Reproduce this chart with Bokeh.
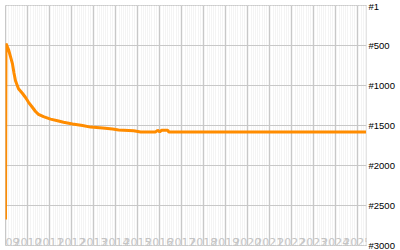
import pandas as pd
from bokeh.plotting import figure
from bokeh.models import Range1d, FixedTicker, Grid, ColumnDataSource
from bokeh.core.properties import value
from bokeh.embed import file_html
from bokeh.resources import INLINE

# ---- data ----
dates = [
    "2009-01-01", "2009-01-09", "2009-02-20", "2009-03-25", "2009-04-27",
    "2009-05-22", "2009-06-16", "2009-08-05", "2009-10-11", "2009-11-30",
    "2010-01-19", "2010-03-26", "2010-05-15", "2010-07-03", "2010-09-24",
    "2011-01-19", "2011-05-15", "2011-08-23", "2012-01-20", "2012-07-04",
    "2012-11-14", "2013-06-03", "2013-11-15", "2014-02-23", "2014-10-30",
    "2015-02-24", "2015-10-31", "2015-12-03", "2016-01-06", "2016-02-09",
    "2016-05-19", "2016-06-05", "2025-05-26",
]
ranks = [
    2675, 475, 550, 640, 730,
    845, 940, 1040, 1100, 1150,
    1210, 1275, 1325, 1360, 1390,
    1420, 1440, 1460, 1480, 1500,
    1520, 1530, 1545, 1555, 1565,
    1580, 1580, 1560, 1580, 1560,
    1560, 1580, 1580,
]
year_ticks = list(range(2009, 2026))
year_labels = [str(y) for y in year_ticks]
rank_ticks = [0, 500, 1000, 1500, 2000, 2500, 3000]
rank_labels = ["#1", "#500", "#1000", "#1500", "#2000", "#2500", "#3000"]

# ---- derived ----
x = pd.to_datetime(dates)
year_dt = [pd.Timestamp(f"{y}-01-01") for y in year_ticks]
year_ms = [t.value // 10**6 for t in year_dt]
month_ms = [t.value // 10**6 for t in pd.date_range("2009-01-01", "2025-12-01", freq="MS")]

p = figure(
    width=400, height=250, output_backend="svg", toolbar_location=None,
    x_axis_location=None, y_axis_location="right",
    x_range=Range1d(pd.Timestamp("2009-01-01"), pd.Timestamp("2025-06-03")),
    y_range=Range1d(3000, 0),
    min_border_left=5, min_border_right=34, min_border_top=5, min_border_bottom=5,
)
p.background_fill_color = "#f0f0f0"
p.border_fill_color = "white"
p.outline_line_color = "#c8c8c8"
p.grid.visible = False

xgrid = Grid(dimension=0, ticker=FixedTicker(ticks=year_ms, minor_ticks=month_ms),
             grid_line_color="#c8c8c8", grid_line_width=1,
             minor_grid_line_color="white", minor_grid_line_width=1.3)
p.add_layout(xgrid, "center")
ygrid = Grid(dimension=1, ticker=FixedTicker(ticks=rank_ticks),
             grid_line_color="#c8c8c8", grid_line_width=1)
p.add_layout(ygrid, "center")

ax = p.yaxis[0]
ax.ticker = FixedTicker(ticks=rank_ticks)
ax.major_label_overrides = dict(zip(rank_ticks, rank_labels))
ax.axis_line_color = None
ax.major_tick_line_color = None
ax.minor_tick_line_color = None
ax.major_tick_out = 0
ax.major_label_standoff = 2
ax.major_label_text_font = "Liberation Sans"
ax.major_label_text_font_size = "9.5px"
ax.major_label_text_color = "black"

lab_src = ColumnDataSource(dict(x=year_dt, t=year_labels))
p.text(x="x", y=2955, text="t", source=lab_src,
       text_font=value("DejaVu Sans"), text_font_size="11px",
       text_color="#c4c4c4", text_align="center", text_baseline="alphabetic")

p.line(x=x, y=ranks, line_color="#ff8c00", line_width=3)

open("out.html", "w").write(file_html(p, INLINE))
